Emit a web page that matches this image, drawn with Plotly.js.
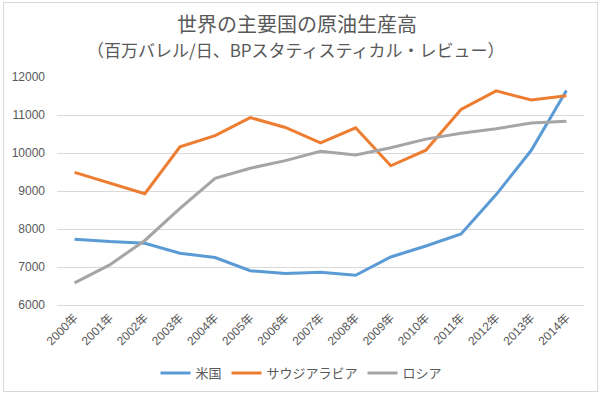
<!DOCTYPE html>
<html>
<head>
<meta charset="utf-8">
<script src="https://cdn.plot.ly/plotly-3.0.1.min.js"></script>
<style>
  body { margin: 0; padding: 0; background: #fff; }
  #wrap { position: relative; width: 603px; height: 397px; }
  #chart { width: 603px; height: 397px; }
  #frame { position: absolute; left: 3px; top: 2px; width: 593px; height: 388px;
           border: 1px solid #D9D9D9; pointer-events: none; }
</style>
</head>
<body>
<div id="wrap">
  <div id="chart"></div>
  <div id="frame"></div>
</div>
<script>
const years = ["2000年","2001年","2002年","2003年","2004年","2005年","2006年","2007年",
               "2008年","2009年","2010年","2011年","2012年","2013年","2014年"];
const usa    = [7733, 7669, 7626, 7362, 7250, 6903, 6828, 6860, 6784, 7263, 7552, 7868, 8905, 10071, 11644];
const saudi  = [9491, 9209, 8928, 10164, 10458, 10931, 10671, 10268, 10663, 9663, 10075, 11144, 11635, 11393, 11505];
const russia = [6583, 7056, 7698, 8544, 9335, 9600, 9800, 10043, 9950, 10139, 10365, 10520, 10640, 10790, 10838];
const seriesNames = ["米国", "サウジアラビア", "ロシア"];
const yTicks = [6000, 7000, 8000, 9000, 10000, 11000, 12000];
const titleText = "世界の主要国の原油生産高";
const subtitleText = "（百万バレル/日、BPスタティスティカル・レビュー）";

const FONT = '"Liberation Sans", "Noto Sans CJK JP", sans-serif';
const CJK = '"Noto Sans CJK JP", "Liberation Sans", sans-serif';
const TXT = '#595959';

const traces = [
  { x: years, y: usa,    name: seriesNames[0], type: 'scatter', mode: 'lines',
    line: { color: '#5B9BD5', width: 3 } },
  { x: years, y: saudi,  name: seriesNames[1], type: 'scatter', mode: 'lines',
    line: { color: '#ED7D31', width: 3 } },
  { x: years, y: russia, name: seriesNames[2], type: 'scatter', mode: 'lines',
    line: { color: '#A5A5A5', width: 3 } }
];

const layout = {
  width: 603, height: 397,
  margin: { l: 57, r: 19, t: 77, b: 92 },
  paper_bgcolor: '#fff', plot_bgcolor: '#fff',
  font: { family: FONT, color: TXT, size: 12 },
  title: {
    text: titleText,
    font: { family: CJK, size: 20, color: TXT },
    x: 297/603, xanchor: 'center', xref: 'container',
    y: 1 - 25/397, yanchor: 'middle', yref: 'container'
  },
  annotations: [{
    text: subtitleText, showarrow: false,
    xref: 'paper', x: (295.5-57)/527, xanchor: 'center',
    yref: 'paper', y: 1 + (77-50)/228, yanchor: 'middle',
    font: { family: CJK, size: 17, color: TXT }
  }],
  xaxis: {
    type: 'category', range: [-0.5, 14.5],
    tickangle: -45, showgrid: false, ticks: '',
    showline: true, linecolor: '#D9D9D9', linewidth: 1,
    tickfont: { family: FONT, size: 12, color: TXT },
    fixedrange: true
  },
  yaxis: {
    range: [6000, 12000], tickvals: yTicks, ticktext: yTicks.map(String),
    showgrid: true, gridcolor: '#D9D9D9', gridwidth: 1, zeroline: false,
    ticks: '', ticklabelstandoff: 11,
    tickfont: { family: FONT, size: 12, color: TXT },
    fixedrange: true
  },
  showlegend: true,
  legend: {
    orientation: 'h', x: 0.5, xanchor: 'center', xref: 'container',
    y: 1 - 373/397, yanchor: 'middle', yref: 'container',
    font: { family: CJK, size: 13, color: TXT },
    itemwidth: 30, tracegroupgap: 0
  },
  hovermode: false
};

Plotly.newPlot('chart', traces, layout, { displayModeBar: false, staticPlot: true });
</script>
</body>
</html>
